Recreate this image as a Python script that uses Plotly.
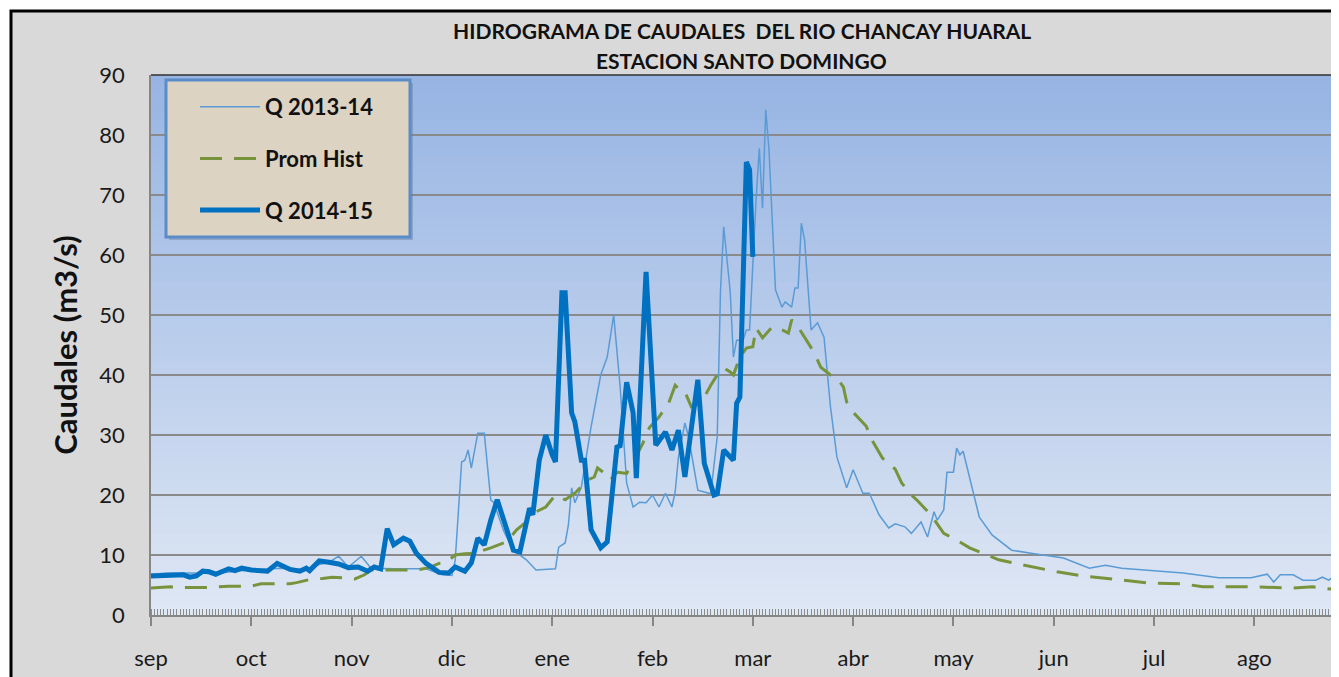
import plotly.graph_objects as go

# ticks del eje x (categoria cada 31 dias, como en excel)
meses = ["sep", "oct", "nov", "dic", "ene", "feb", "mar", "abr", "may", "jun", "jul", "ago"]
dias_meses = [0, 31, 62, 93, 124, 155, 186, 217, 248, 279, 310, 341]

# Q 2013-14
dias_1314 = [0, 5, 12, 20, 30, 40, 48, 52, 55, 58, 61, 65, 68, 75, 85, 90, 93, 94, 96, 97, 98, 99,
             101, 103, 105, 106, 109, 112, 116, 119, 125, 126, 128, 129, 130, 131, 133, 136, 139,
             141, 143, 145, 147, 149, 151, 153, 155, 157, 159, 161, 162, 163, 165, 166, 167, 169,
             173, 175, 176, 177, 179, 180, 181, 183, 184, 185, 187, 188, 189, 190, 191, 193, 195,
             196, 198, 199, 200, 201, 202, 204, 206, 208, 210, 212, 215, 217, 220, 222, 225, 228,
             230, 233, 235, 238, 240, 242, 243, 245, 246, 248, 249, 250, 251, 256, 260, 266, 272,
             282, 290, 295, 300, 306, 312, 319, 325, 330, 340, 345, 347, 349, 353, 356, 360, 362,
             364, 365]
q_1314 = [6.8, 7.0, 7.0, 6.9, 7.5, 7.8, 7.6, 8.4, 8.8, 9.8, 8.0, 9.8, 7.8, 7.7, 7.7, 6.7, 6.6, 9.0,
          25.5, 25.8, 27.5, 24.5, 30.3, 30.3, 19.2, 18.7, 14.0, 10.8, 9.2, 7.5, 7.7, 11.3, 12.0,
          15.0, 21.2, 18.7, 21.3, 31.3, 40.0, 43.0, 50.0, 38.0, 22.0, 18.0, 18.8, 18.7, 20.0,
          18.0, 20.3, 18.0, 20.5, 26.3, 32.0, 30.0, 27.0, 20.8, 20.2, 29.7, 54.0, 64.7, 54.0,
          43.0, 45.8, 45.8, 47.5, 47.5, 69.2, 77.8, 67.8, 84.2, 77.5, 54.2, 51.3, 52.2, 51.3,
          54.5, 54.5, 65.3, 62.5, 47.5, 48.7, 46.3, 34.7, 26.3, 21.2, 24.2, 20.3, 20.3, 16.7,
          14.5, 15.2, 14.7, 13.6, 15.5, 13.0, 17.2, 15.8, 17.5, 23.8, 23.8, 27.8, 26.7, 27.3,
          16.3, 13.3, 10.8, 10.3, 9.5, 7.8, 8.3, 7.8, 7.5, 7.3, 7.0, 6.5, 6.2, 6.2, 6.8, 5.5,
          6.7, 6.7, 5.8, 5.8, 6.3, 5.8, 6.2]

# Prom Hist
dias_prom = [0, 6, 10, 18, 24, 31, 34, 43, 45, 49, 53, 56, 60, 63, 66, 68, 75, 82, 86, 89, 91, 94,
             97, 100, 105, 110, 113, 116, 119, 122, 125, 128, 131, 135, 137, 138, 140, 142, 144,
             147, 149, 152, 154, 157, 160, 162, 164, 165, 167, 170, 173, 175, 177, 179, 180, 182,
             184, 186, 187, 189, 192, 194, 197, 198, 200, 203, 205, 207, 210, 212, 214, 215, 217,
             221, 223, 226, 230, 232, 235, 237, 241, 245, 249, 253, 257, 262, 268, 274, 280, 288,
             297, 309, 319, 325, 340, 353, 359, 365]
q_prom = [4.5, 4.7, 4.6, 4.6, 4.8, 4.8, 5.2, 5.2, 5.4, 5.9, 6.1, 6.3, 6.2, 6.0, 6.7, 7.5, 7.5, 7.5,
          7.9, 8.6, 8.7, 10.0, 10.2, 10.3, 11.2, 12.2, 14.2, 15.5, 17.2, 18.0, 20.0, 19.2, 20.3,
          22.5, 23.0, 24.5, 23.7, 22.5, 23.8, 23.6, 25.5, 28.6, 31.2, 33.0, 35.3, 38.3, 37.2,
          37.2, 34.7, 35.3, 38.3, 40.0, 41.2, 40.5, 40.0, 43.0, 44.5, 44.7, 47.8, 46.2, 48.0,
          47.8, 47.0, 49.2, 48.0, 45.3, 43.7, 41.3, 40.0, 39.5, 38.0, 35.5, 33.8, 31.5, 29.0,
          26.2, 24.3, 22.0, 20.0, 19.0, 16.7, 13.6, 12.5, 11.2, 10.3, 9.2, 8.5, 7.8, 7.2, 6.5,
          6.0, 5.3, 5.2, 4.7, 4.7, 4.5, 4.7, 4.3]

# Q 2014-15 (hasta inicios de marzo)
dias_1415 = [0, 4, 10, 12, 14, 16, 18, 20, 22, 24, 26, 28, 31, 34, 36, 39, 41, 43, 46, 48, 49, 52,
             55, 58, 61, 64, 67, 69, 71, 73, 75, 77, 78, 80, 82, 85, 87, 89, 92, 94, 97, 99, 101,
             103, 105, 107, 112, 114, 117, 118, 120, 122, 124, 125, 127, 128, 130, 131, 133, 134,
             136, 139, 141, 142, 144, 145, 147, 149, 150, 153, 156, 159, 161, 163, 165, 169, 171,
             174, 175, 177, 180, 181, 182, 184, 185, 186]
q_1415 = [6.5, 6.6, 6.7, 6.3, 6.5, 7.3, 7.2, 6.8, 7.2, 7.7, 7.4, 7.8, 7.5, 7.4, 7.3, 8.6, 8.0, 7.6,
          7.3, 7.8, 7.4, 9.0, 8.8, 8.5, 7.9, 8.0, 7.3, 8.0, 7.7, 14.4, 11.7, 12.6, 12.8, 12.3,
          10.3, 8.6, 7.8, 7.1, 7.0, 8.0, 7.3, 8.7, 12.8, 11.7, 15.8, 19.2, 10.8, 10.5, 17.8, 16.7,
          25.8, 30.0, 26.7, 25.5, 53.7, 53.7, 33.7, 32.2, 25.8, 25.8, 14.2, 11.2, 12.2, 18.0,
          28.0, 28.2, 38.8, 33.7, 22.8, 57.2, 28.3, 30.5, 27.5, 30.8, 23.0, 39.2, 25.3, 20.0,
          20.2, 27.5, 25.8, 35.3, 36.3, 75.5, 74.2, 59.7]

# posiciones en pixeles de la pagina (la pagina tiene margen de 8px)
OFF = 8
W, H = 1339, 677
ML, MR, MT, MB = 151, 7, 75, 62
pw, ph = W - ML - MR, H - MT - MB


def px(x):
    return (x - ML) / pw


def py(y):
    return (H - MB - y) / ph


fig = go.Figure()
fig.add_trace(go.Scatter(x=dias_1314, y=q_1314, mode="lines", name="Q 2013-14",
                         line=dict(color="#5B9BD5", width=1.5), legendgroup="a"))
fig.add_trace(go.Scatter(x=dias_prom, y=q_prom, mode="lines", name="Prom Hist",
                         line=dict(color="#77933C", width=3, dash="22px,12px"), legendgroup="b"))
fig.add_trace(go.Scatter(x=dias_1415, y=q_1415, mode="lines", name="Q 2014-15",
                         line=dict(color="#0070C0", width=5), legendgroup="c"))

shapes = []
# marco exterior gris con borde negro
shapes.append(dict(type="rect", xref="paper", yref="paper", x0=px(11), x1=px(W + 20),
                   y0=py(H + 20), y1=py(11), fillcolor="#D9D9D9",
                   line=dict(color="black", width=3), layer="below"))
# degradado del area de trazado
n = 60
c_bot, c_top = (223, 231, 244), (150, 180, 227)
for i in range(n):
    t = (i + 0.5) / n
    c = tuple(round(c_bot[k] + (c_top[k] - c_bot[k]) * t) for k in range(3))
    shapes.append(dict(type="rect", xref="x domain", yref="y domain", x0=0, x1=1,
                       y0=i / n, y1=(i + 1) / n, fillcolor="rgb(%d,%d,%d)" % c,
                       line=dict(width=0), layer="below"))
# bordes superior y derecho
shapes.append(dict(type="line", xref="x domain", yref="y domain", x0=0, x1=1, y0=1, y1=1,
                   line=dict(color="#303030", width=1.5), layer="above"))
shapes.append(dict(type="line", xref="x domain", yref="y domain", x0=1, x1=1, y0=0, y1=1,
                   line=dict(color="#202020", width=2), layer="above"))
# caja de leyenda
shapes.append(dict(type="rect", xref="paper", yref="paper", x0=px(169), x1=px(413),
                   y0=py(240), y1=py(83), fillcolor="rgba(90,110,140,0.35)",
                   line=dict(width=0), layer="above"))
shapes.append(dict(type="rect", xref="paper", yref="paper", x0=px(166), x1=px(410),
                   y0=py(237), y1=py(80), fillcolor="#DCD3C3",
                   line=dict(color="#5B8CC8", width=3), layer="above"))

fig.update_layout(
    width=W - OFF, height=H - OFF,
    margin=dict(l=ML - OFF, r=MR, t=MT - OFF, b=MB),
    paper_bgcolor="white",
    plot_bgcolor="rgba(0,0,0,0)",
    font=dict(family="Lato, Open Sans, sans-serif", color="#1a1a1a"),
    shapes=shapes,
    showlegend=True,
    legend=dict(x=px(195), y=py(86), xanchor="left", yanchor="top",
                bgcolor="rgba(0,0,0,0)", borderwidth=0, traceorder="grouped",
                tracegroupgap=20, itemwidth=60,
                font=dict(size=22, color="#111111", family="Lato, sans-serif", weight="bold")),
    annotations=[
        dict(text="<b>HIDROGRAMA DE CAUDALES  DEL RIO CHANCAY HUARAL</b>", xref="paper",
             yref="paper", x=0.5, y=py(30), xanchor="center", yanchor="middle",
             showarrow=False, font=dict(size=21, color="#111111")),
        dict(text="<b>ESTACION SANTO DOMINGO</b>", xref="paper", yref="paper", x=0.5,
             y=py(60), xanchor="center", yanchor="middle", showarrow=False,
             font=dict(size=21, color="#111111")),
    ],
)

fig.update_xaxes(range=[0, 365], tickmode="array", tickvals=dias_meses, ticktext=meses,
                 showgrid=False, zeroline=False, showline=True, linecolor="#868686",
                 linewidth=1.5, ticks="outside", ticklen=9, tickwidth=1.5, tickcolor="#868686",
                 ticklabelstandoff=14, tickfont=dict(size=22, color="#1a1a1a"),
                 minor=dict(ticks="inside", dtick=1, tick0=0, ticklen=6, tickwidth=1,
                            tickcolor="#8c8c8c", showgrid=False))
fig.update_yaxes(range=[0, 90], dtick=10, showgrid=True, gridcolor="#8A8A8A", gridwidth=2,
                 zeroline=False, showline=True, linecolor="#868686", linewidth=1.5, ticks="",
                 ticklabelstandoff=20, tickfont=dict(size=22, color="#1a1a1a"),
                 title=dict(text="<b>Caudales (m3/s)</b>", font=dict(size=31, color="#111111"),
                            standoff=12))

fig.write_html("out.html")
